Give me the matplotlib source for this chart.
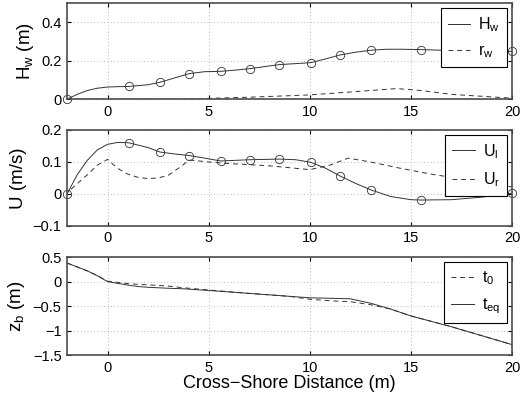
import numpy as np
import matplotlib
matplotlib.use('Agg')
import matplotlib.pyplot as plt

plt.rcParams['font.family'] = ['Liberation Sans', 'DejaVu Sans']
plt.rcParams['mathtext.fontset'] = 'custom'
plt.rcParams['mathtext.rm'] = 'Liberation Sans'
plt.rcParams['mathtext.default'] = 'rm'

# wave height (top panel)
x_hw = [-2, -1.5, -1, -0.5, 0, 0.5, 1.05, 2, 2.6, 3.3, 4.05, 4.8, 5.6, 6.3, 7.05, 7.8, 8.5,
        9.3, 10.05, 10.8, 11.5, 12.3, 13.05, 13.8, 14.5, 15.5, 16.5, 17.5, 18.5, 20]
hw = [0, 0.025, 0.045, 0.057, 0.063, 0.065, 0.066, 0.075, 0.088, 0.11, 0.133, 0.143, 0.145,
      0.151, 0.159, 0.17, 0.18, 0.185, 0.19, 0.21, 0.23, 0.245, 0.255, 0.26, 0.26, 0.258,
      0.255, 0.25, 0.248, 0.249]
x_rw = [-2, 0, 2, 4.5, 5, 7, 10, 13, 14.3, 15.5, 17, 20]
rw = [0, 0, 0, 0, 0.004, 0.01, 0.022, 0.045, 0.055, 0.045, 0.025, 0.005]

# sampled gauge locations (markers)
x_obs = [-2, 1.05, 2.6, 4.05, 5.6, 7.05, 8.5, 10.05, 11.5, 13.05, 15.5, 20]
hw_obs = [0, 0.066, 0.088, 0.133, 0.145, 0.159, 0.18, 0.19, 0.23, 0.255, 0.258, 0.249]
ul_obs = [0, 0.159, 0.131, 0.12, 0.102, 0.107, 0.109, 0.099, 0.056, 0.012, -0.019, 0.002]

# velocities (middle panel)
x_ul = [-2, -1.5, -1, -0.5, 0, 0.5, 1.05, 2, 2.6, 3.3, 4.05, 4.8, 5.6, 6.3, 7.05, 8.5, 9.3,
        10.05, 10.8, 11.5, 12.3, 13.05, 14, 15, 15.5, 17, 18.5, 20]
ul = [0, 0.06, 0.105, 0.138, 0.155, 0.161, 0.16, 0.145, 0.131, 0.125, 0.12, 0.112, 0.103,
      0.105, 0.107, 0.109, 0.107, 0.099, 0.08, 0.056, 0.032, 0.012, -0.008, -0.018, -0.019,
      -0.018, -0.01, 0.002]
x_ur = [-1.8, -1, -0.5, 0, 0.5, 1, 1.5, 2, 2.5, 3, 3.5, 4.05, 5, 6, 8, 9, 10, 11, 11.9,
        13, 14.5, 16, 18, 20]
ur = [0.015, 0.06, 0.09, 0.108, 0.08, 0.062, 0.052, 0.048, 0.05, 0.058, 0.08, 0.106, 0.1,
      0.095, 0.088, 0.082, 0.076, 0.09, 0.112, 0.1, 0.08, 0.062, 0.042, 0.022]

# bed profile (bottom panel)
x_zb = [-2, -1, -0.5, 0, 1, 1.5, 2, 3, 3.75, 5, 7, 9, 10, 11, 12, 13, 14, 15, 17, 20]
zb_eq = [0.38, 0.22, 0.12, 0.0, -0.07, -0.1, -0.115, -0.135, -0.146, -0.18, -0.24, -0.3,
         -0.33, -0.34, -0.35, -0.44, -0.56, -0.7, -0.92, -1.285]
zb_0 = [0.38, 0.22, 0.12, 0.01, -0.04, -0.056, -0.065, -0.09, -0.125, -0.17, -0.24, -0.3,
        -0.36, -0.39, -0.41, -0.47, -0.56, -0.7, -0.92, -1.285]

fig = plt.figure(figsize=(5.24, 3.95), dpi=100)
ax1 = fig.add_axes([0.128, 0.749, 0.849, 0.243])
ax2 = fig.add_axes([0.128, 0.428, 0.849, 0.243])
ax3 = fig.add_axes([0.128, 0.101, 0.849, 0.248])

lc = '0.2'
sub = r'$_{\mathregular{%s}}$'
ax1.plot(x_hw, hw, '-', color=lc, lw=0.7, label='H' + sub % 'w')
ax1.plot(x_rw, rw, '--', color=lc, lw=0.7, label='r' + sub % 'w', dashes=(5, 4))
ax1.plot(x_obs, hw_obs, 'o', mfc='none', mec=lc, ms=6, mew=0.6, clip_on=False)
ax1.set_ylim(0, 0.5)
ax1.set_yticks([0, 0.2, 0.4])
ax1.set_yticklabels(['0', '0.2', '0.4'])
ax1.set_ylabel('H' + sub % 'w' + ' (m)', fontsize=13.5)

ax2.plot(x_ul, ul, '-', color=lc, lw=0.7, label='U' + sub % 'l')
ax2.plot(x_ur, ur, '--', color=lc, lw=0.7, label='U' + sub % 'r', dashes=(5, 4))
ax2.plot(x_obs, ul_obs, 'o', mfc='none', mec=lc, ms=6, mew=0.6, clip_on=False)
ax2.set_ylim(-0.1, 0.2)
ax2.set_yticks([-0.1, 0, 0.1, 0.2])
ax2.set_yticklabels(['\u22120.1', '0', '0.1', '0.2'])
ax2.set_ylabel('U (m/s)', fontsize=13.5)

ax3.plot(x_zb, zb_0, '--', color=lc, lw=0.7, label='t' + sub % '0', dashes=(5, 4))
ax3.plot(x_zb, zb_eq, '-', color=lc, lw=0.7, label='t' + sub % 'eq')
ax3.set_ylim(-1.5, 0.5)
ax3.set_yticks([-1.5, -1, -0.5, 0, 0.5])
ax3.set_yticklabels(['\u22121.5', '\u22121', '\u22120.5', '0', '0.5'])
ax3.set_ylabel('z' + sub % 'b' + ' (m)', fontsize=13.5)
ax3.set_xlabel('Cross\u2212Shore Distance (m)', fontsize=13, labelpad=0)

for ax in (ax1, ax2, ax3):
    ax.set_xlim(-2, 20)
    ax.set_xticks([0, 5, 10, 15, 20])
    ax.grid(True, color='0.65', linestyle=(0, (1, 3)), linewidth=0.6)
    ax.tick_params(direction='in', top=True, right=True, labelsize=10.5, length=3, pad=4)
    for s in ax.spines.values():
        s.set_color('0.3')
        s.set_linewidth(1.2)
    leg = ax.legend(loc='upper right', fontsize=11.5, fancybox=False, framealpha=1,
                    edgecolor='black', handlelength=1.4, borderaxespad=0.3,
                    labelspacing=0.6, borderpad=0.45, handletextpad=0.5)
    leg.get_frame().set_linewidth(0.8)

fig.align_ylabels([ax1, ax2, ax3])
fig.savefig('out.png', dpi=100)
